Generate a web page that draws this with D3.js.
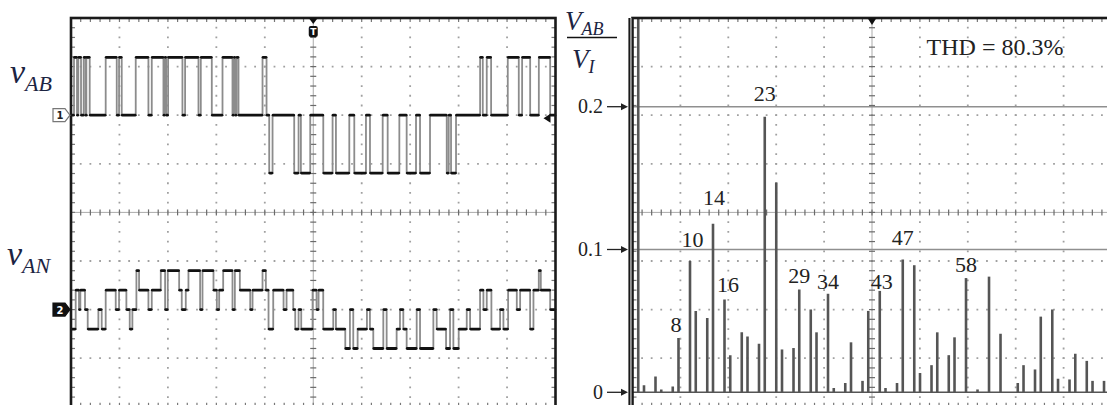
<!DOCTYPE html>
<html>
<head>
<meta charset="utf-8">
<script src="https://cdn.jsdelivr.net/npm/d3@7"></script>
<style>
  html, body { margin: 0; padding: 0; background: #fff; }
  svg { display: block; }
  text { font-family: "Liberation Serif", "Times New Roman", serif; }
</style>
</head>
<body>
<svg id="chart" width="1107" height="405"></svg>
<script>
// ---- Oscilloscope traces (time in screen divisions, level in steps) ----
const vabTimes = [0, 0.062, 0.124, 0.151, 0.207, 0.262, 0.303, 0.317, 0.386, 0.716,
  0.944, 0.992, 1.047, 1.336, 1.598, 1.667, 1.908, 1.935, 1.963, 2.004,
  2.300, 2.355, 2.631, 2.679, 2.906, 3.127, 3.333, 3.361, 3.388, 3.416,
  3.457, 3.953, 4.036, 4.091, 4.160, 4.607, 4.697, 4.745, 4.938, 5.207,
  5.399, 5.468, 5.744, 5.847, 6.088, 6.171, 6.433, 6.536, 6.777, 6.928,
  7.121, 7.204, 7.410, 7.755, 7.796, 7.844, 7.947, 8.444, 8.499, 8.581,
  8.671, 9.015, 9.242, 9.311, 9.477, 9.656, 9.890];
const vabLevels = [0, 1, 0, 1, 0, 1, 0, 1, 0, 1,
  0, 1, 0, 1, 0, 1, 0, 1, 0, 1,
  0, 1, 0, 1, 0, 1, 0, 1, 0, 1,
  0, 1, 0, -1, 0, -1, 0, -1, 0, -1,
  0, -1, 0, -1, 0, -1, 0, -1, 0, -1,
  0, -1, 0, -1, 0, -1, 0, 1, 0, 1,
  0, 1, 0, 1, 0, 1, 0];

const vanTimes = [0, 0.097, 0.165, 0.193, 0.289, 0.345, 0.565, 0.634, 0.716, 0.923,
  0.992, 1.143, 1.212, 1.267, 1.350, 1.405, 1.598, 1.667, 1.853, 1.942,
  1.997, 2.232, 2.286, 2.369, 2.424, 2.665, 2.714, 2.941, 3.010, 3.058,
  3.141, 3.333, 3.382, 3.485, 3.699, 3.747, 3.953, 4.022, 4.077, 4.174,
  4.387, 4.449, 4.587, 4.628, 4.697, 4.752, 4.986, 5.068, 5.110, 5.206,
  5.413, 5.468, 5.661, 5.757, 5.826, 5.916, 6.108, 6.170, 6.239, 6.446,
  6.515, 6.721, 6.790, 6.859, 6.928, 7.135, 7.204, 7.479, 7.548, 7.741,
  7.823, 7.892, 8.002, 8.168, 8.237, 8.443, 8.512, 8.581, 8.677, 8.856,
  8.925, 9.022, 9.201, 9.270, 9.476, 9.545, 9.655, 9.697, 9.890];
const vanLevels = [-1, 1, 0, 1, 0, -1, 0, -1, 1, 0,
  1, 0, -1, 0, 2, 1, 0, 1, 2, 0,
  2, 1, 0, 1, 2, 0, 2, 1, 0, 1,
  2, 0, 2, 1, 0, 1, 2, 1, -1, 1,
  0, 1, 0, -1, 0, -1, 1, 0, 1, -1,
  0, -1, -2, 0, -2, -1, 0, -1, -2, 0,
  -2, -1, 0, -1, -2, 0, -2, 0, -1, -2,
  0, -2, -1, 0, -1, 1, 0, 1, -1, 0,
  -1, 1, 0, 1, -1, 1, 2, 1, 0];

// ---- Harmonic spectrum of v_AB / V_I ----
const harmonicOrders = [1, 2, 4, 5, 7, 8, 10, 11, 13, 14,
  16, 17, 19, 20, 22, 23, 25, 26, 28, 29,
  31, 32, 34, 35, 37, 38, 40, 41, 43, 44,
  46, 47, 49, 50, 52, 53, 55, 56, 58, 60,
  62, 64, 67, 68, 70, 71, 73, 74, 76, 77,
  79, 80, 82];
const harmonicAmplitudes = [0.78, 0.005, 0.011, 0.002, 0.004, 0.038, 0.092, 0.057, 0.052, 0.118,
  0.065, 0.026, 0.042, 0.039, 0.034, 0.193, 0.147, 0.030, 0.031, 0.072,
  0.058, 0.042, 0.069, 0.003, 0.0065, 0.035, 0.008, 0.057, 0.071, 0.003,
  0.0065, 0.093, 0.089, 0.0135, 0.019, 0.042, 0.026, 0.0385, 0.080, 0.002,
  0.081, 0.041, 0.0065, 0.019, 0.016, 0.053, 0.058, 0.0095, 0.009, 0.027,
  0.022, 0.008, 0.008];
const labelledOrders = [8, 10, 14, 16, 23, 29, 34, 43, 47, 58];
const spectrumTicks = [0, 0.1, 0.2];
const thdLabel = "THD = 80.3%";

// ---- Layout ----
const svg = d3.select("#chart");
const scopeBox = { left: 71, right: 555.5, top: 18, bottom: 406.8 };
const specBox  = { left: 632.5, right: 1111.5, top: 18, bottom: 406.8 };
const ink = "#1c2442";

function graticule(g, b) {
  const gx = d3.scaleLinear().domain([0, 10]).range([b.left, b.right]);
  const gy = d3.scaleLinear().domain([-4, 4]).range([b.bottom, b.top]);
  const subX = (gx(1) - gx(0)) / 5, subY = (gy(-4) - gy(-3)) / 5;

  // dotted division lines
  g.selectAll(null).data(d3.range(1, 10).filter(d => d !== 5)).join("line")
    .attr("x1", d => gx(d)).attr("x2", d => gx(d))
    .attr("y1", b.top).attr("y2", b.bottom)
    .attr("stroke", "#a0a0a0").attr("stroke-width", 1.8)
    .attr("stroke-dasharray", `1.8 ${subY - 1.8}`).attr("stroke-dashoffset", 0.9);
  g.selectAll(null).data(d3.range(-3, 4).filter(d => d !== 0)).join("line")
    .attr("y1", d => gy(d)).attr("y2", d => gy(d))
    .attr("x1", b.left).attr("x2", b.right)
    .attr("stroke", "#a0a0a0").attr("stroke-width", 1.8)
    .attr("stroke-dasharray", `1.8 ${subX - 1.8}`).attr("stroke-dashoffset", 0.9);

  // centre axes with minor ticks
  g.append("line").attr("x1", gx(5)).attr("x2", gx(5)).attr("y1", b.top).attr("y2", b.bottom)
    .attr("stroke", "#ababab").attr("stroke-width", 1);
  g.append("line").attr("y1", gy(0)).attr("y2", gy(0)).attr("x1", b.left).attr("x2", b.right)
    .attr("stroke", "#ababab").attr("stroke-width", 1);
  const tx = d3.range(0.2, 10, 0.2), ty = d3.range(-3.8, 4, 0.2);
  g.selectAll(null).data(tx).join("line")
    .attr("x1", d => gx(d)).attr("x2", d => gx(d))
    .attr("y1", gy(0) - 3).attr("y2", gy(0) + 3)
    .attr("stroke", "#6a6a6a").attr("stroke-width", 1.2);
  g.selectAll(null).data(ty).join("line")
    .attr("y1", d => gy(d)).attr("y2", d => gy(d))
    .attr("x1", gx(5) - 3).attr("x2", gx(5) + 3)
    .attr("stroke", "#6a6a6a").attr("stroke-width", 1.2);

  // ticks along the frame
  g.selectAll(null).data(tx).join("line")
    .attr("x1", d => gx(d)).attr("x2", d => gx(d))
    .attr("y1", b.top).attr("y2", b.top + 4)
    .attr("stroke", "#777").attr("stroke-width", 1.2);
  g.selectAll(null).data(tx).join("line")
    .attr("x1", d => gx(d)).attr("x2", d => gx(d))
    .attr("y1", b.bottom - 4).attr("y2", b.bottom)
    .attr("stroke", "#777").attr("stroke-width", 1.2);
  g.selectAll(null).data(ty).join("line")
    .attr("y1", d => gy(d)).attr("y2", d => gy(d))
    .attr("x1", b.left).attr("x2", b.left + 4)
    .attr("stroke", "#777").attr("stroke-width", 1.2);
  g.selectAll(null).data(ty).join("line")
    .attr("y1", d => gy(d)).attr("y2", d => gy(d))
    .attr("x1", b.right - 4).attr("x2", b.right)
    .attr("stroke", "#777").attr("stroke-width", 1.2);

  return { gx, gy };
}

// ---------------- Left: oscilloscope ----------------
const scopeG = svg.append("g");
const { gx: sx, gy: sy } = graticule(scopeG, scopeBox);

// channel 1 sits two divisions above centre, channel 2 two below
const yAB = d3.scaleLinear().domain([-1, 1]).range([sy(2 - 1.19), sy(2 + 1.19)]);
const yAN = d3.scaleLinear().domain([-2, 2]).range([sy(-2 - 0.8), sy(-2 + 0.8)]);

function drawTrace(times, levels, yScale) {
  const pts = times.map((t, i) => [t, levels[i]]);
  pts.push([10, levels[levels.length - 1]]);
  const line = d3.line().x(d => sx(d[0])).y(d => yScale(d[1])).curve(d3.curveStepAfter);
  scopeG.append("path").attr("d", line(pts))
    .attr("fill", "none").attr("stroke", "#8c8c8c").attr("stroke-width", 1.8);
  const segs = d3.pairs(pts).map(([a, b]) => ({ x0: a[0], x1: b[0], v: a[1] }));
  scopeG.selectAll(null).data(segs).join("line")
    .attr("x1", d => sx(d.x0) + 0.6).attr("x2", d => sx(d.x1) - 0.6)
    .attr("y1", d => yScale(d.v)).attr("y2", d => yScale(d.v))
    .attr("stroke", "#111").attr("stroke-width", 2.8).attr("stroke-linecap", "round");
}
drawTrace(vabTimes, vabLevels, yAB);
drawTrace(vanTimes, vanLevels, yAN);

scopeG.append("rect")
  .attr("x", scopeBox.left).attr("y", scopeBox.top)
  .attr("width", scopeBox.right - scopeBox.left).attr("height", scopeBox.bottom - scopeBox.top)
  .attr("fill", "none").attr("stroke", "#1a1a1a").attr("stroke-width", 2.6);

// trigger marker
const tX = sx(5);
scopeG.append("path").attr("d", `M${tX - 4.5},${scopeBox.top} L${tX + 4.5},${scopeBox.top} L${tX},${scopeBox.top + 6} Z`).attr("fill", "#111");
scopeG.append("rect").attr("x", tX - 4.5).attr("y", scopeBox.top + 8).attr("width", 9).attr("height", 11)
  .attr("rx", 2).attr("fill", "#111");
scopeG.append("text").attr("x", tX).attr("y", scopeBox.top + 17).attr("text-anchor", "middle")
  .attr("font-size", 9).attr("font-weight", "bold").attr("fill", "#fff")
  .style("font-family", "DejaVu Sans").text("T");

// channel ground markers
function chMarker(yy, label, filled) {
  const x1 = scopeBox.left - 1;
  const g = scopeG.append("g");
  g.append("path")
    .attr("d", `M${x1 - 17},${yy - 6.5} L${x1 - 5},${yy - 6.5} L${x1},${yy} L${x1 - 5},${yy + 6.5} L${x1 - 17},${yy + 6.5} Z`)
    .attr("fill", filled ? "#111" : "#fff").attr("stroke", filled ? "#111" : "#777").attr("stroke-width", 1.2);
  g.append("text").attr("x", x1 - 10).attr("y", yy + 4).attr("text-anchor", "middle")
    .attr("font-size", 10).attr("font-weight", "bold").attr("fill", filled ? "#fff" : "#222")
    .style("font-family", "DejaVu Sans").text(label);
}
chMarker(yAB(0), "1", false);
chMarker(yAN(0), "2", true);
scopeG.append("path")
  .attr("d", `M${scopeBox.right - 12},${yAB(0) + 3} L${scopeBox.right - 5},${yAB(0) - 1.5} L${scopeBox.right - 5},${yAB(0) + 7.5} Z`)
  .attr("fill", "#111");

// trace names
function vName(x, y, sub) {
  const t = svg.append("text").attr("x", x).attr("y", y).attr("fill", ink).attr("font-style", "italic");
  t.append("tspan").attr("font-size", 34).text("v");
  t.append("tspan").attr("font-size", 22).attr("dy", 8).text(sub);
}
vName(10, 83, "AB");
vName(7, 265, "AN");

// ---------------- Right: spectrum ----------------
const specG = svg.append("g");
graticule(specG, specBox);

const xH = d3.scaleLinear().domain([0, 83.3]).range([specBox.left, specBox.right]);
const yH = d3.scaleLinear().domain([0, 0.2]).range([392.3, 106.7]);

// reference lines at 0.1 and 0.2
specG.selectAll(null).data(spectrumTicks.filter(d => d > 0)).join("line")
  .attr("x1", specBox.left).attr("x2", specBox.right)
  .attr("y1", d => yH(d)).attr("y2", d => yH(d))
  .attr("stroke", "#8f8f8f").attr("stroke-width", 1.5);

specG.append("clipPath").attr("id", "specClip").append("rect")
  .attr("x", specBox.left).attr("y", specBox.top)
  .attr("width", specBox.right - specBox.left).attr("height", specBox.bottom - specBox.top);

const bars = harmonicOrders.map((h, i) => ({ h, v: harmonicAmplitudes[i] }));
const barG = specG.append("g").attr("clip-path", "url(#specClip)");
barG.append("line").attr("x1", specBox.left).attr("x2", specBox.right)
  .attr("y1", yH(0)).attr("y2", yH(0)).attr("stroke", "#555").attr("stroke-width", 1.6);
barG.selectAll(null).data(bars).join("line")
  .attr("x1", d => xH(d.h)).attr("x2", d => xH(d.h))
  .attr("y1", yH(0)).attr("y2", d => yH(d.v))
  .attr("stroke", "#555").attr("stroke-width", 2.6);

// frame (left edge drawn as a double rule)
specG.append("rect")
  .attr("x", specBox.left).attr("y", specBox.top)
  .attr("width", specBox.right - specBox.left).attr("height", specBox.bottom - specBox.top)
  .attr("fill", "none").attr("stroke", "#1a1a1a").attr("stroke-width", 2.6);
specG.append("line").attr("x1", specBox.left - 1.5).attr("x2", specBox.left - 1.5)
  .attr("y1", specBox.top).attr("y2", specBox.bottom).attr("stroke", "#999").attr("stroke-width", 1.4);
specG.append("line").attr("x1", specBox.left - 3.2).attr("x2", specBox.left - 3.2)
  .attr("y1", specBox.top).attr("y2", specBox.bottom).attr("stroke", "#1a1a1a").attr("stroke-width", 1.8);

// trigger marker
const cX = (specBox.left + specBox.right) / 2;
specG.append("path").attr("d", `M${cX - 4.5},${specBox.top} L${cX + 4.5},${specBox.top} L${cX},${specBox.top + 7} Z`).attr("fill", "#111");

// harmonic order labels
const labelNudge = { 8: [-2.5, 6], 10: [2.5, 14], 14: [1, 19], 16: [3.5, 7], 23: [0, 16],
  29: [0, 6], 34: [0, 5], 43: [2, 2], 47: [0, 14], 58: [0, 6] };
specG.selectAll(null).data(bars.filter(d => labelledOrders.includes(d.h))).join("text")
  .attr("x", d => xH(d.h) + labelNudge[d.h][0])
  .attr("y", d => yH(d.v) - labelNudge[d.h][1])
  .attr("text-anchor", "middle").attr("font-size", 22).attr("fill", "#222")
  .text(d => d.h);

specG.append("text").attr("x", 995).attr("y", 55).attr("text-anchor", "middle")
  .attr("font-size", 24).attr("fill", "#222").text(thdLabel);

// value ticks with arrows
const tickFmt = d => d === 0 ? "0" : d3.format(".1f")(d);
const tickG = svg.append("g");
tickG.selectAll(null).data(spectrumTicks).join("text")
  .attr("x", 603).attr("y", d => yH(d) + 6.5).attr("text-anchor", "end")
  .attr("font-size", 20).attr("fill", "#222").text(tickFmt);
tickG.selectAll(null).data(spectrumTicks).join("line")
  .attr("x1", 607).attr("x2", 622).attr("y1", d => yH(d)).attr("y2", d => yH(d))
  .attr("stroke", "#222").attr("stroke-width", 1.3);
tickG.selectAll(null).data(spectrumTicks).join("path")
  .attr("d", d => `M621,${yH(d) - 3.5} L628,${yH(d)} L621,${yH(d) + 3.5} Z`).attr("fill", "#222");

// V_AB / V_I
const frac = svg.append("g").attr("fill", ink).attr("font-style", "italic");
const num = frac.append("text").attr("x", 565).attr("y", 30);
num.append("tspan").attr("font-size", 27).text("V");
num.append("tspan").attr("font-size", 18).attr("dy", 5).text("AB");
frac.append("line").attr("x1", 567).attr("x2", 617).attr("y1", 37.5).attr("y2", 37.5)
  .attr("stroke", "#111").attr("stroke-width", 1.6);
const den = frac.append("text").attr("x", 572).attr("y", 68);
den.append("tspan").attr("font-size", 27).text("V");
den.append("tspan").attr("font-size", 18).attr("dy", 5).text("I");
</script>
</body>
</html>
